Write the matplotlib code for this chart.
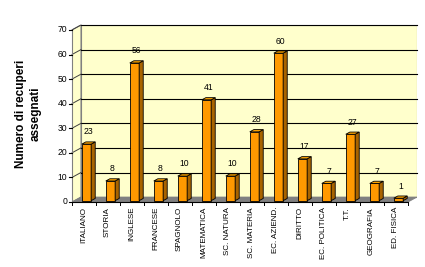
import numpy as np
import matplotlib
matplotlib.use("Agg")
import matplotlib.pyplot as plt
from matplotlib.patches import Polygon

plt.rcParams['font.family'] = ['Liberation Sans', 'DejaVu Sans']

materie = ["ITALIANO", "STORIA", "INGLESE", "FRANCESE", "SPAGNOLO", "MATEMATICA",
           "SC. NATURA", "SC. MATERIA", "EC. AZIEND.", "DIRITTO", "EC. POLITICA",
           "T.T.", "GEOGRAFIA", "ED. FISICA"]
recuperi = [23, 8, 56, 8, 10, 41, 10, 28, 60, 17, 7, 27, 7, 1]
yticks = [0, 10, 20, 30, 40, 50, 60, 70]

# 3d look: depth of floor/walls and of bars, in data units
dx, dy = 0.375, 2.0
bdx, bdy = 0.17, 0.9
bw = 0.39
ymax = 70

fig = plt.figure(figsize=(4.25, 2.67), dpi=100)
W, H = 425, 267
ax = fig.add_axes([72 / W, (H - 202) / H, (417 - 72) / W, (202 - 25) / H])
n = len(materie)
x0, x1 = -0.5, n - 0.5
ax.set_xlim(x0, x1 + dx)
ax.set_ylim(0, ymax + dy)
ax.axis('off')

wall = "#FFFFCC"
edge = "#808080"
# back wall
ax.add_patch(Polygon([(x0 + dx, dy), (x1 + dx, dy), (x1 + dx, ymax + dy), (x0 + dx, ymax + dy)],
                     closed=True, fc=wall, ec=edge, lw=0.8, zorder=0))
# left wall
ax.add_patch(Polygon([(x0, 0), (x0 + dx, dy), (x0 + dx, ymax + dy), (x0, ymax)],
                     closed=True, fc=wall, ec=edge, lw=0.8, zorder=0))
# floor
ax.add_patch(Polygon([(x0, 0), (x1, 0), (x1 + dx, dy), (x0 + dx, dy)],
                     closed=True, fc="#808080", ec="#808080", lw=0.6, zorder=1))

# gridlines
for t in yticks[1:]:
    ax.plot([x0 + dx, x1 + dx], [t + dy, t + dy], color="black", lw=0.8, zorder=0.5,
            clip_on=False)
    ax.plot([x0, x0 + dx], [t, t + dy], color="#404040", lw=0.7, zorder=0.5, clip_on=False)

# y axis with ticks
ax.plot([x0, x0], [0, ymax], color=edge, lw=0.8, clip_on=False)
for t in yticks:
    ax.plot([x0 - 0.12, x0], [t, t], color="black", lw=0.8, clip_on=False)
    ax.text(x0 - 0.2, t, str(t), ha='right', va='center', fontsize=6.2)

# x axis with ticks between categories
ax.plot([x0, x1], [0, 0], color="black", lw=0.8, clip_on=False)
for b in np.arange(x0, x1 + 0.01, 1.0):
    ax.plot([b, b], [0, -1.3], color="black", lw=0.7, clip_on=False)

xs = np.arange(n)
offx = (dx - bdx) / 2
offy = (dy - bdy) / 2
bars = ax.bar(xs + offx, recuperi, width=bw, bottom=offy, color="#FF9900",
              edgecolor="black", linewidth=0.6, zorder=3)
for i, v in enumerate(recuperi):
    left = xs[i] + offx - bw / 2
    right = xs[i] + offx + bw / 2
    top = v + offy
    ax.add_patch(Polygon([(right, offy), (right + bdx, offy + bdy), (right + bdx, top + bdy),
                          (right, top)], closed=True, fc="#A86400", ec="black", lw=0.6, zorder=3))
    ax.add_patch(Polygon([(left, top), (right, top), (right + bdx, top + bdy),
                          (left + bdx, top + bdy)], closed=True, fc="#FFA500", ec="black",
                         lw=0.6, zorder=3))
    ax.text(xs[i] + offx + bdx / 2, top + bdy + 2.2, str(v), ha='center', va='bottom',
            fontsize=6.2, zorder=4)
    ax.text(xs[i] - 0.02, -2.0, materie[i], rotation=90, ha='center', va='top',
            fontsize=5.8, clip_on=False)

fig.text(28 / W, 1 - 114 / H, "Numero di recuperi\nassegnati", rotation=90,
         ha='center', va='center', fontsize=8.5, fontweight='bold', linespacing=1.25)

fig.savefig("out.png", dpi=100)
